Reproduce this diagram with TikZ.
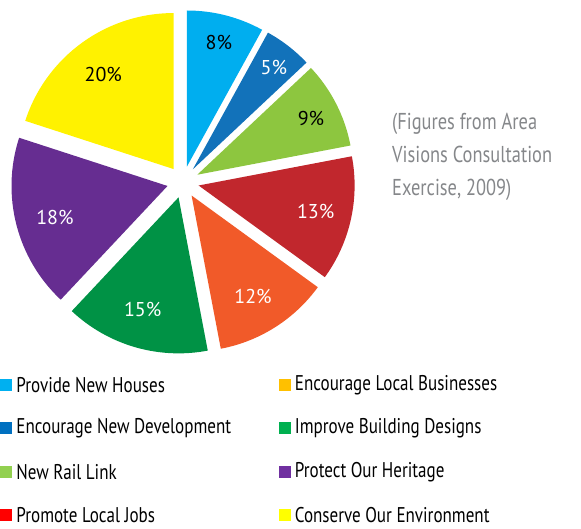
\documentclass[tikz,border=0pt]{standalone}
\usepackage{fontspec}
\setmainfont{PT Sans}
\newfontfamily\narrowfont[FakeStretch=0.8]{PT Sans}
\usetikzlibrary{calc,positioning}

\definecolor{SliceHouses}{HTML}{00AEEF}
\definecolor{SliceDevelopment}{HTML}{1272BA}
\definecolor{SliceRail}{HTML}{8DC63F}
\definecolor{SliceJobs}{HTML}{C1272D}
\definecolor{SliceBusinesses}{HTML}{F15A29}
\definecolor{SliceDesigns}{HTML}{009245}
\definecolor{SliceHeritage}{HTML}{662D91}
\definecolor{SliceEnvironment}{HTML}{FFF200}

\definecolor{KeyHouses}{HTML}{00B0F0}
\definecolor{KeyDevelopment}{HTML}{0070C0}
\definecolor{KeyRail}{HTML}{92D050}
\definecolor{KeyJobs}{HTML}{FF0000}
\definecolor{KeyBusinesses}{HTML}{FFC000}
\definecolor{KeyDesigns}{HTML}{00B050}
\definecolor{KeyHeritage}{HTML}{7030A0}
\definecolor{KeyEnvironment}{HTML}{FFFF00}
\definecolor{NoteGrey}{HTML}{85878A}

\tikzset{
  percent/.style={font=\fontsize{20}{22}\selectfont},
  keybox/.style={minimum size=12pt, inner sep=0pt},
  keytext/.style={inner sep=0pt, anchor=west, font=\narrowfont\fontsize{21.3}{23}\selectfont},
}

\begin{document}
\begin{tikzpicture}[x=1pt,y=1pt]
    \useasboundingbox (0,0) rectangle (581,528);

    \coordinate (O) at (183,346);

    % slices, clockwise from the top, each pushed out along its middle
    \fill[SliceHouses] ($(O)+(75.6:16pt)$) -- ++(90:156pt)
        arc[start angle=90, end angle=61.2, radius=156pt] -- cycle;
    \fill[SliceDevelopment] ($(O)+(52.2:16pt)$) -- ++(61.2:156pt)
        arc[start angle=61.2, end angle=43.2, radius=156pt] -- cycle;
    \fill[SliceRail] ($(O)+(27:16pt)$) -- ++(43.2:156pt)
        arc[start angle=43.2, end angle=10.8, radius=156pt] -- cycle;
    \fill[SliceJobs] ($(O)+(-12.6:16pt)$) -- ++(10.8:156pt)
        arc[start angle=10.8, end angle=-36, radius=156pt] -- cycle;
    \fill[SliceBusinesses] ($(O)+(-57.6:16pt)$) -- ++(-36:156pt)
        arc[start angle=-36, end angle=-79.2, radius=156pt] -- cycle;
    \fill[SliceDesigns] ($(O)+(-106.2:16pt)$) -- ++(-79.2:156pt)
        arc[start angle=-79.2, end angle=-133.2, radius=156pt] -- cycle;
    \fill[SliceHeritage] ($(O)+(-165.6:16pt)$) -- ++(-133.2:156pt)
        arc[start angle=-133.2, end angle=-198, radius=156pt] -- cycle;
    \fill[SliceEnvironment] ($(O)+(126:16pt)$) -- ++(162:156pt)
        arc[start angle=162, end angle=90, radius=156pt] -- cycle;

    \node[percent] (pHouses) at ($(O)+(75.6:144pt)$) {8\%};
    \node[percent, white] (pDevelopment) at ($(O)+(51.5:146pt)$) {5\%};
    \node[percent] (pRail) at ($(O)+(26.5:143pt)$) {9\%};
    \node[percent, white] (pJobs) at ($(O)+(-12.6:136pt)$) {13\%};
    \node[percent, white] (pBusinesses) at ($(O)+(-58.5:134pt)$) {12\%};
    \node[percent, white] (pDesigns) at ($(O)+(-107.5:134pt)$) {15\%};
    \node[percent, white] (pHeritage) at ($(O)+(-164.3:133pt)$) {18\%};
    \node[percent] (pEnvironment) at ($(O)+(126.5:134pt)$) {20\%};

    \node[NoteGrey, anchor=west, align=left, inner sep=0pt,
          font=\narrowfont\fontsize{23}{33}\selectfont] (note) at (392,371)
        {(Figures from Area\\Visions Consultation\\Exercise, 2009)};

    % key
    \node[keybox, fill=KeyHouses] (kHouses) at (6,143) {};
    \node[keytext, right=4pt of kHouses] (tHouses) {Provide New Houses};
    \node[keybox, fill=KeyDevelopment] (kDevelopment) at (6,100) {};
    \node[keytext, right=4pt of kDevelopment] (tDevelopment) {Encourage New Development};
    \node[keybox, fill=KeyRail] (kRail) at (6,56) {};
    \node[keytext, right=4pt of kRail] (tRail) {New Rail Link};
    \node[keybox, fill=KeyJobs] (kJobs) at (6,13) {};
    \node[keytext, right=4pt of kJobs] (tJobs) {Promote Local Jobs};

    \node[keybox, fill=KeyBusinesses] (kBusinesses) at (284.5,143) {};
    \node[keytext, right=4pt of kBusinesses] (tBusinesses) {Encourage Local Businesses};
    \node[keybox, fill=KeyDesigns] (kDesigns) at (284.5,100) {};
    \node[keytext, right=4pt of kDesigns] (tDesigns) {Improve Building Designs};
    \node[keybox, fill=KeyHeritage] (kHeritage) at (284.5,56) {};
    \node[keytext, right=4pt of kHeritage] (tHeritage) {Protect Our Heritage};
    \node[keybox, fill=KeyEnvironment] (kEnvironment) at (284.5,13) {};
    \node[keytext, right=4pt of kEnvironment] (tEnvironment) {Conserve Our Environment};
\end{tikzpicture}
\end{document}
